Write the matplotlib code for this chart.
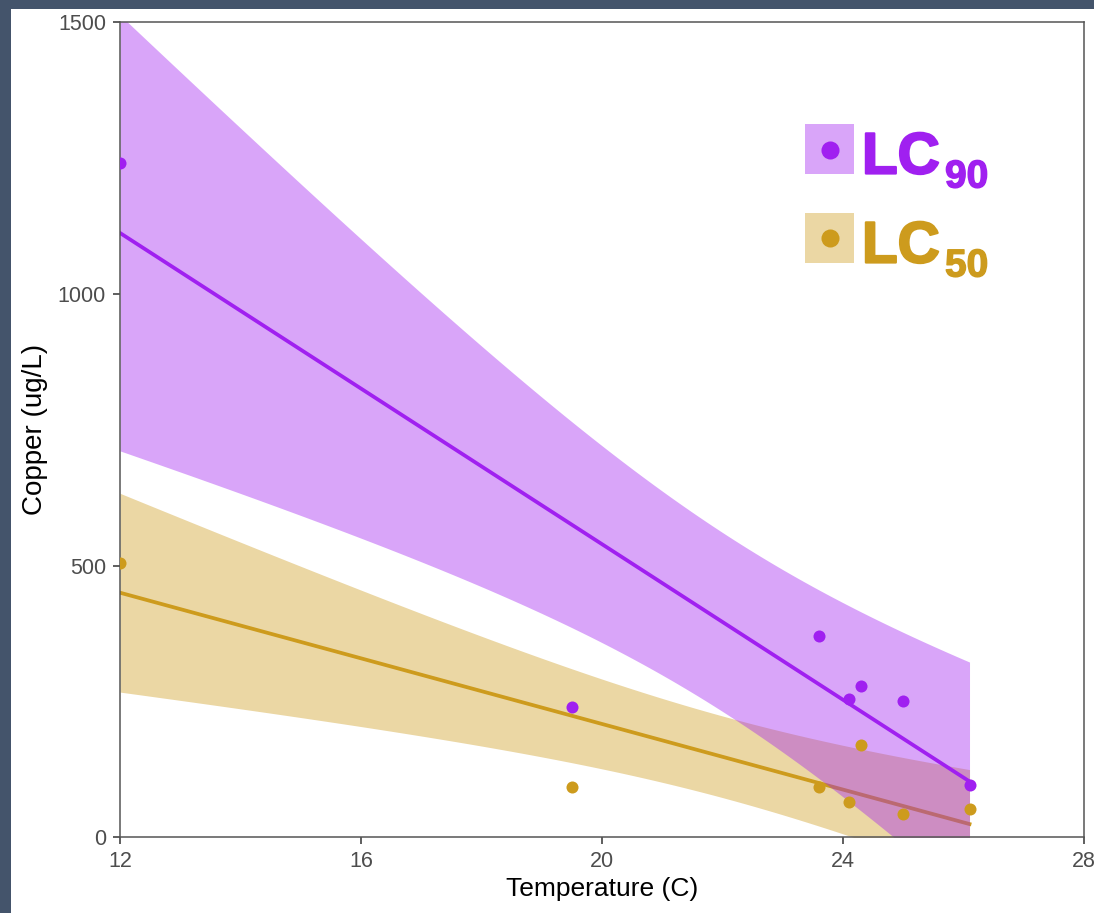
import numpy as np
import matplotlib
matplotlib.use("Agg")
import matplotlib.pyplot as plt
import matplotlib.patheffects as pe
from matplotlib.patches import Rectangle
from matplotlib.lines import Line2D

plt.rcParams['font.family'] = ['Liberation Sans', 'DejaVu Sans']

# data
temp = [12.0, 19.5, 23.6, 24.1, 24.3, 25.0, 26.1]
lc90 = [1241, 240, 370, 254, 278, 250, 96]
lc50 = [505, 92, 92, 65, 169, 42, 51]
x_ticks = [12, 16, 20, 24, 28]
y_ticks = [0, 500, 1000, 1500]

purple = '#A020F0'
gold = '#CD9B1D'
t_975 = 2.5706  # t quantile, df = 5


def lm_fit(x, y, grid):
    # ordinary least squares with 95% confidence band (like geom_smooth(method = "lm"))
    x = np.asarray(x, float)
    y = np.asarray(y, float)
    slope, icept = np.polyfit(x, y, 1)
    resid = y - (icept + slope * x)
    s = np.sqrt(np.sum(resid ** 2) / (len(x) - 2))
    sxx = np.sum((x - x.mean()) ** 2)
    fit = icept + slope * grid
    se = s * np.sqrt(1 / len(x) + (grid - x.mean()) ** 2 / sxx)
    return fit, fit - t_975 * se, fit + t_975 * se


W, H = 1094, 913
fig = plt.figure(figsize=(W / 100, H / 100), dpi=100, facecolor='#44546B')
fig.patches.append(Rectangle((11 / W, 0), 1 - 11 / W, 1 - 9 / H, transform=fig.transFigure,
                             facecolor='white', edgecolor='none', zorder=-5))

ax = fig.add_axes([120 / W, 1 - 837 / H, 964 / W, (837 - 22.5) / H])
ax.set_zorder(1)

grid = np.linspace(min(temp), max(temp), 120)
for vals, col in [(lc50, gold), (lc90, purple)]:
    fit, lo, hi = lm_fit(temp, vals, grid)
    ax.fill_between(grid, lo, hi, color=col, alpha=0.4, linewidth=0, zorder=2)
    ax.plot(grid, fit, color=col, linewidth=2.7, zorder=2)

ax.scatter(temp, lc90, s=75, color=purple, linewidth=0, zorder=3)
ax.scatter(temp, lc50, s=75, color=gold, linewidth=0, zorder=3)

ax.set_xlim(12, 28)
ax.set_ylim(0, 1500)
ax.set_xticks(x_ticks)
ax.set_yticks(y_ticks)
for sp in ax.spines.values():
    sp.set_color('#555555')
    sp.set_linewidth(1.1)
ax.tick_params(length=5, width=1.1, color='#333333', labelcolor='#4D4D4D',
               labelsize=15.5, pad=5)
ax.tick_params(axis='x', pad=5)
ax.set_xlabel('Temperature (C)', fontsize=19, labelpad=4)
ax.set_ylabel('Copper (ug/L)', fontsize=20, labelpad=7)

# legend drawn by hand: shaded key, dot, "LC" with subscript
keys = [(purple, '90', 124), (gold, '50', 213)]
for col, sub, top in keys:
    fig.patches.append(Rectangle((805 / W, 1 - (top + 50) / H), 49 / W, 50 / H,
                                 transform=fig.transFigure, facecolor=col, alpha=0.4,
                                 edgecolor='none', zorder=5))
    fig.lines.append(Line2D([829.5 / W], [1 - (top + 25.5) / H], transform=fig.transFigure,
                            marker='o', markersize=13, color=col, markeredgewidth=0, zorder=6))
    fig.text(862 / W, 1 - (top + 49.5) / H, 'LC', fontsize=42, fontweight='bold', color=col,
             va='baseline', ha='left', zorder=6,
             path_effects=[pe.withStroke(linewidth=1.6, foreground=col)])
    fig.text(945 / W, 1 - (top + 63.5) / H, sub, fontsize=28, fontweight='bold', color=col,
             va='baseline', ha='left', zorder=6,
             path_effects=[pe.withStroke(linewidth=1.0, foreground=col)])

fig.savefig('out.png', dpi=100, facecolor=fig.get_facecolor())
